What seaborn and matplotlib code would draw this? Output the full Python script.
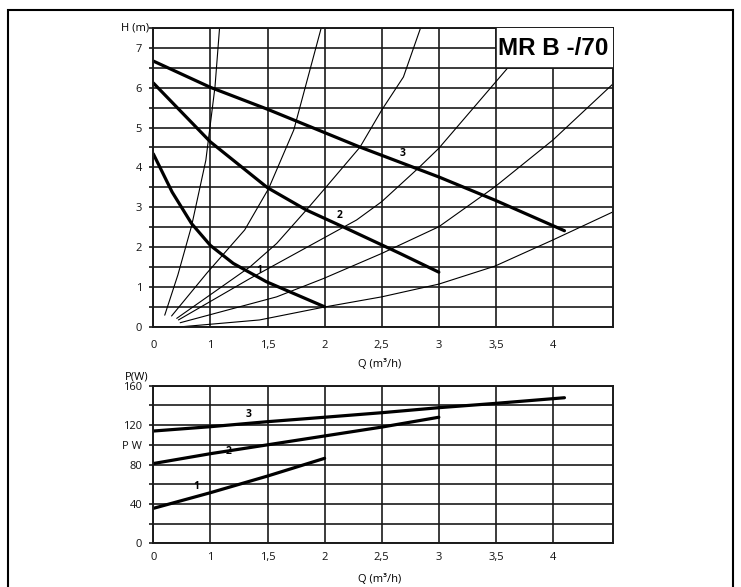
import numpy as np
import pandas as pd
import matplotlib
matplotlib.use('Agg')
import matplotlib.pyplot as plt
import seaborn as sns
from matplotlib.patches import Rectangle
from matplotlib.ticker import MultipleLocator

# system curves (thin lines), Q in m3/h, H in m
sys_a_q = [0.20, 0.43, 0.67, 0.92, 1.04, 1.08]
sys_a_h = [0.29, 1.30, 2.53, 4.18, 6.02, 7.50]
sys_b_q = [0.32, 0.94, 1.30, 1.51, 1.73, 1.97]
sys_b_h = [0.27, 1.35, 2.43, 3.47, 4.94, 7.50]
sys_c_q = [0.41, 1.35, 1.58, 1.84, 1.99, 2.31, 2.50, 2.69, 2.84]
sys_c_h = [0.21, 1.51, 2.09, 2.93, 3.43, 4.51, 5.44, 6.27, 7.50]
sys_d_q = [0.44, 1.34, 2.28, 2.50, 2.82, 3.00, 3.61]
sys_d_h = [0.17, 1.20, 2.68, 3.14, 3.98, 4.48, 6.52]
sys_e_q = [0.47, 1.58, 1.99, 2.50, 3.00, 3.49, 4.00, 4.53]
sys_e_h = [0.10, 0.75, 1.21, 1.84, 2.51, 3.51, 4.69, 6.11]
sys_f_q = [0.50, 1.43, 1.99, 2.50, 3.00, 3.49, 4.00, 4.53]
sys_f_h = [0.00, 0.17, 0.49, 0.75, 1.07, 1.52, 2.18, 2.89]

# pump curves H(Q) for speeds 1, 2, 3
h1_q = [0, 0.33, 0.67, 1.0, 1.2, 1.49, 2.0]
h1_h = [4.34, 3.38, 2.59, 2.04, 1.59, 1.13, 0.50]
h2_q = [0, 1.0, 1.2, 1.5, 1.84, 2.19, 2.66, 3.0]
h2_h = [6.12, 4.64, 4.18, 3.49, 2.93, 2.47, 1.84, 1.37]
h3_q = [0, 1.0, 1.5, 2.31, 3.0, 3.49, 4.1]
h3_h = [6.67, 6.01, 5.46, 4.51, 3.76, 3.18, 2.41]

# power curves P(Q)
p1_q = [0, 1.0, 1.5, 2.0]
p1_w = [35.5, 51.4, 68.3, 86.3]
p2_q = [0, 1.0, 1.5, 2.0, 2.5, 3.0]
p2_w = [81, 91, 100, 109, 118, 128]
p3_q = [0, 1.0, 1.5, 2.0, 2.5, 3.0, 3.5, 4.1]
p3_w = [114, 118.4, 123.5, 128, 132.6, 137.7, 142.1, 147.8]

q_ticks = [0, 1, 1.5, 2, 2.5, 3, 3.5, 4]
q_labels = ['0', '1', '1,5', '2', '2,5', '3', '3,5', '4']
h_ticks = [0, 1, 2, 3, 4, 5, 6, 7]
p_ticks = [0, 40, 80, 100, 120, 160]
p_labels = ['0', '40', '80', 'P W', '120', '160']

sys_df = pd.concat([
    pd.DataFrame({'Q': q, 'H': h, 'curve': name})
    for name, q, h in [('a', sys_a_q, sys_a_h), ('b', sys_b_q, sys_b_h),
                       ('c', sys_c_q, sys_c_h), ('d', sys_d_q, sys_d_h),
                       ('e', sys_e_q, sys_e_h), ('f', sys_f_q, sys_f_h)]
])
pump_df = pd.concat([
    pd.DataFrame({'Q': q, 'H': h, 'speed': s})
    for s, q, h in [(1, h1_q, h1_h), (2, h2_q, h2_h), (3, h3_q, h3_h)]
])
pow_df = pd.concat([
    pd.DataFrame({'Q': q, 'P': p, 'speed': s})
    for s, q, p in [(1, p1_q, p1_w), (2, p2_q, p2_w), (3, p3_q, p3_w)]
])

sns.set_theme(style='white')
plt.rcParams['font.family'] = ['Open Sans', 'DejaVu Sans']
plt.rcParams['text.color'] = 'black'
plt.rcParams['xtick.color'] = 'black'
plt.rcParams['ytick.color'] = 'black'
plt.rcParams['axes.labelcolor'] = 'black'

GRID = '#1a1a1a'


# the Q axis of the data sheet squeezes 0..1 into half a grid step
def fwd(q):
    q = np.asarray(q, dtype=float)
    return np.where(q < 1, 0.5 + 0.5 * q, q)


def inv(v):
    v = np.asarray(v, dtype=float)
    return np.where(v < 1, 2 * (v - 0.5), v)


fig = plt.figure(figsize=(7.41, 5.87), dpi=100)
ax1 = fig.add_axes([0.2069, 0.4434, 0.6208, 0.5089])
ax2 = fig.add_axes([0.2069, 0.0744, 0.6208, 0.2685])

# top chart: head
sns.lineplot(data=sys_df, x='Q', y='H', units='curve', estimator=None, sort=False,
             color='black', lw=0.8, ax=ax1, legend=False)
sns.lineplot(data=pump_df, x='Q', y='H', units='speed', estimator=None, sort=False,
             color='black', lw=2.3, ax=ax1, legend=False)

# bottom chart: power
sns.lineplot(data=pow_df, x='Q', y='P', units='speed', estimator=None, sort=False,
             color='black', lw=2.3, ax=ax2, legend=False)

for ax in (ax1, ax2):
    ax.set_xscale('function', functions=(fwd, inv))
    ax.set_xlim(0, 4.528)
    ax.set_xticks(q_ticks)
    ax.set_xticklabels(q_labels)
    ax.set_axisbelow(True)
    ax.grid(True, which='both', color=GRID, lw=1.2)
    ax.set_xlabel('')
    ax.set_ylabel('')
    for sp in ax.spines.values():
        sp.set_color(GRID)
        sp.set_linewidth(1.4)
    ax.tick_params(axis='y', which='both', left=True, length=3, width=1.2,
                   color=GRID, pad=5, labelsize=8, labelcolor='#111111')
    ax.tick_params(axis='x', which='both', bottom=False, length=0, labelsize=8,
                   labelcolor='#111111')

ax1.set_ylim(0, 7.5)
ax1.set_yticks(h_ticks)
ax1.yaxis.set_minor_locator(MultipleLocator(0.5))
ax1.tick_params(axis='x', pad=9.5)
ax1.text(-0.01, 1.0, 'H (m)', transform=ax1.transAxes, ha='right', va='center', fontsize=8)
ax1.text(0.493, -0.125, 'Q (m³/h)', transform=ax1.transAxes, ha='center', va='center', fontsize=8)

ax1.add_patch(Rectangle((3.5, 6.5), 1.2, 1.2, facecolor='white', edgecolor=GRID,
                        lw=1.2, zorder=3))
ax1.text(0.870, 0.930, 'MR B -/70', transform=ax1.transAxes, ha='center', va='center',
         fontsize=17.5, fontweight='bold', family='Liberation Sans', color='black', zorder=5)

for lab, q, h in [('3', 2.68, 4.35), ('2', 2.13, 2.78), ('1', 1.43, 1.41)]:
    ax1.text(q, h, lab, ha='center', va='center', fontsize=7.5, fontweight='bold', zorder=4)

ax2.set_ylim(0, 160)
ax2.set_yticks(p_ticks)
ax2.set_yticklabels(p_labels)
ax2.yaxis.set_minor_locator(MultipleLocator(20))
ax2.tick_params(axis='x', pad=6.5)
ax2.text(-0.01, 1.057, 'P(W)', transform=ax2.transAxes, ha='right', va='center', fontsize=8)
ax2.text(0.493, -0.2265, 'Q (m³/h)', transform=ax2.transAxes, ha='center', va='center', fontsize=8)

for lab, q, p in [('3', 1.33, 131), ('2', 1.16, 93), ('1', 0.75, 57.5)]:
    ax2.text(q, p, lab, ha='center', va='center', fontsize=7.5, fontweight='bold', zorder=4)

# outer frame
fig.add_artist(Rectangle((0.0108, -0.02), 0.9784, 1.003, transform=fig.transFigure,
                         fill=False, lw=1.5, ec='black'))

plt.savefig('out.png', dpi=100)
